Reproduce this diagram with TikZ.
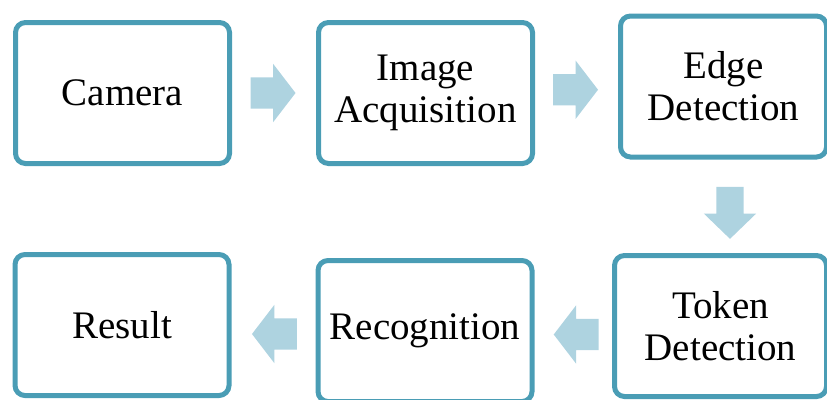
\documentclass[tikz,border=0pt]{standalone}
\usepackage{fontspec}
\setmainfont{Liberation Serif}
\usetikzlibrary{shapes.arrows,calc}
\definecolor{boxline}{HTML}{4A9DB5}
\definecolor{arrowfill}{HTML}{AED3E0}
\begin{document}
\begin{tikzpicture}[x=1pt,y=-1pt]
\tikzset{box style/.style={shape=rectangle,draw=boxline,line width=5pt,rounded corners=10pt,
                           minimum width=214pt,minimum height=141pt,align=center,
                           font=\fontsize{39}{42}\selectfont},
         flow arrow/.style={shape=single arrow,fill=arrowfill,draw=none,
                           inner xsep=0pt,inner ysep=15.5pt,
                           minimum height=45pt,minimum width=58pt,
                           single arrow head extend=13.5pt,single arrow tip angle=105},
         down arrow/.style={flow arrow,shape border rotate=270,
                           inner xsep=13.5pt,inner ysep=0pt,
                           minimum height=52pt,minimum width=52pt,
                           single arrow head extend=12.5pt,single arrow tip angle=92}}
\useasboundingbox (0,0) rectangle (827,399);

\node[box style] at (122.5, 93)   (cam)    {Camera};
\node[box style] at (425.5, 93)   (acq)    {Image\\Acquisition};
\node[box style, minimum width=206pt] at (723.5, 86.5) (edge) {Edge\\Detection};

\node[box style, minimum width=212pt] at (720.5, 326) (token) {Token\\Detection};
\node[box style] at (425, 331)    (recog)  {Recognition};
\node[box style] at (122, 325)    (result) {Result};

\node[flow arrow] at ($(cam.east)!0.5!(acq.west)+(-7,0)$)     (a1) {};
\node[flow arrow] at ($(acq.east)!0.5!(edge.west)+(-7,0)$)    (a2) {};
\node[down arrow] at ($(edge.south)!0.5!(token.north)+(8,0)$) (a3) {};
\node[flow arrow, shape border rotate=180] at ($(token.west)!0.5!(recog.east)+(9,6)$)  (a4) {};
\node[flow arrow, shape border rotate=180] at ($(recog.west)!0.5!(result.east)+(7,6)$) (a5) {};
\end{tikzpicture}
\end{document}
